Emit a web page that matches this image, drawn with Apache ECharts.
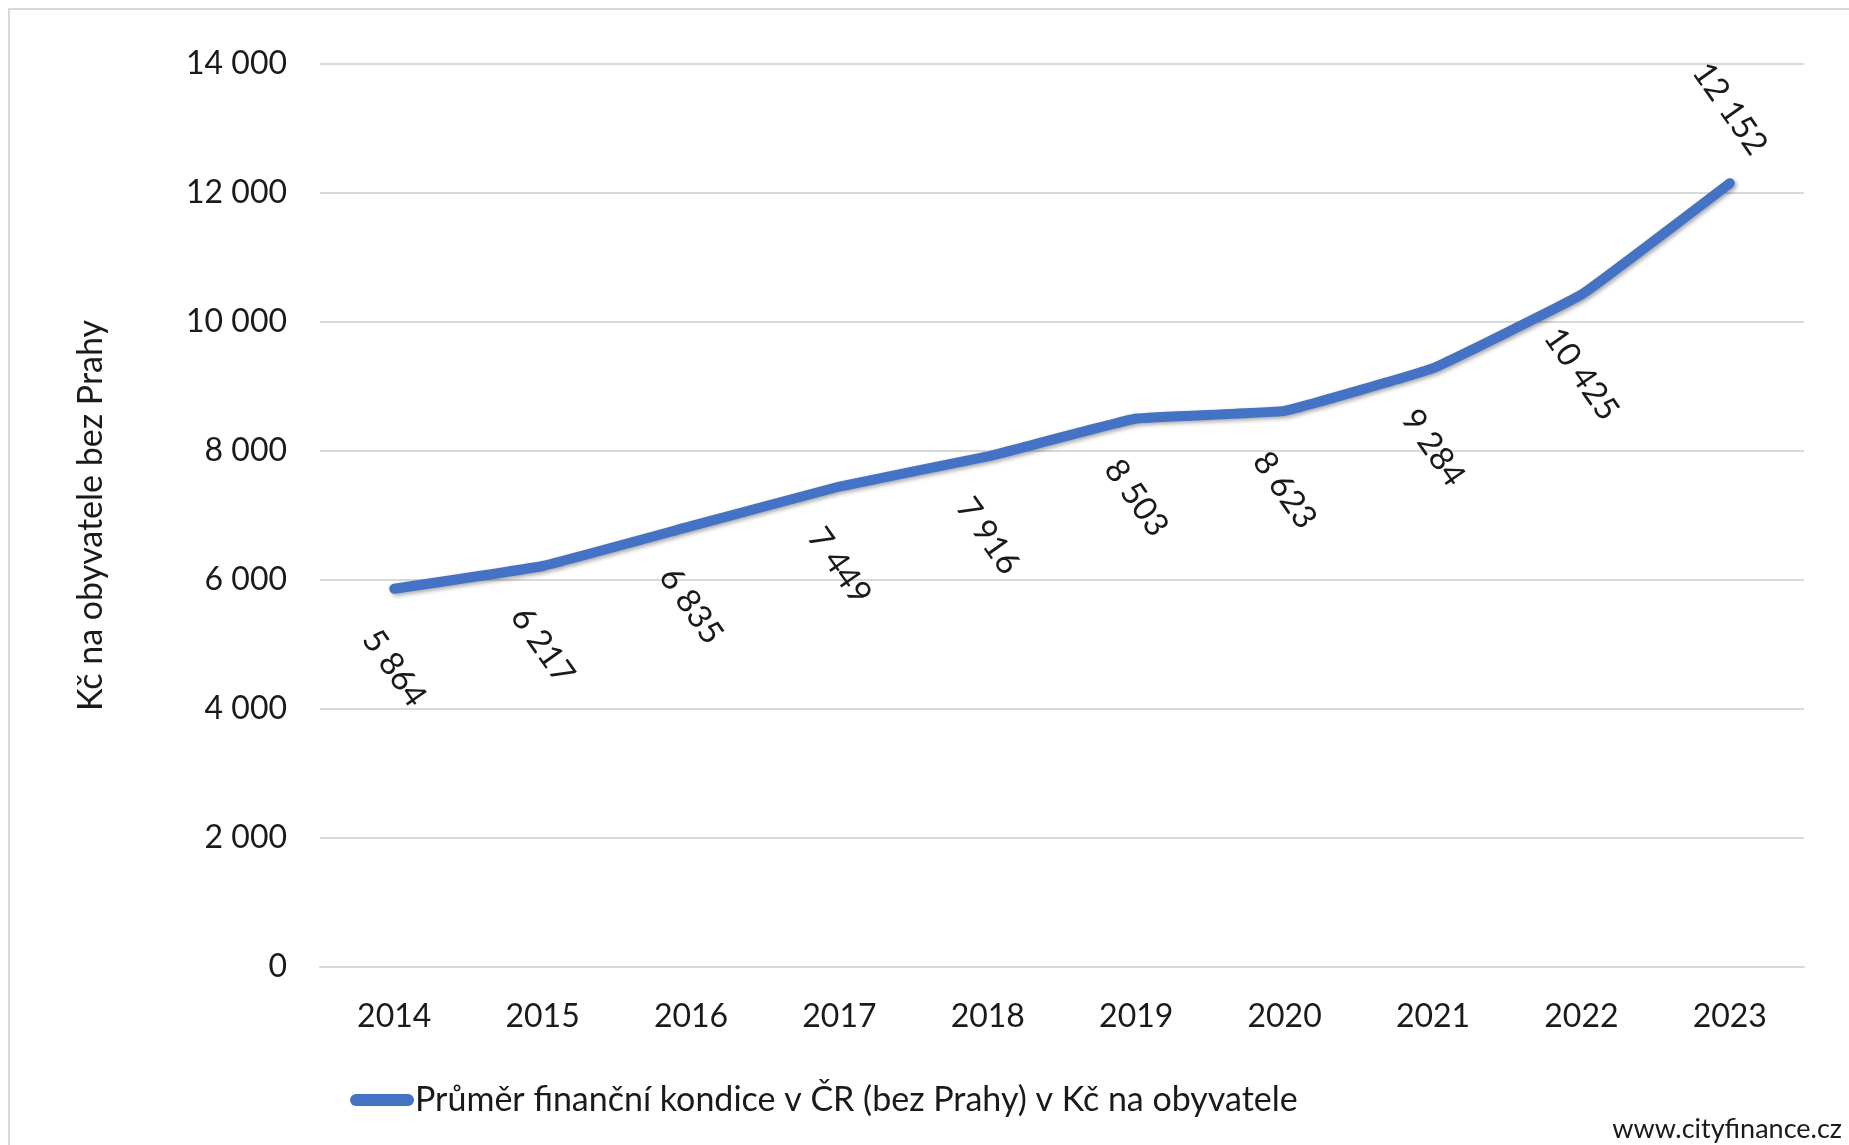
<!DOCTYPE html>
<html>
<head>
<meta charset="utf-8">
<script src="https://cdn.jsdelivr.net/npm/echarts@6/dist/echarts.min.js"></script>
<style>
  html, body { margin: 0; padding: 0; background: #fff; }
  #chart { width: 1849px; height: 1145px; }
</style>
</head>
<body>
<div id="chart"></div>
<script>
// data
const roky = ['2014', '2015', '2016', '2017', '2018', '2019', '2020', '2021', '2022', '2023']
const hodnoty = [5864, 6217, 6835, 7449, 7916, 8503, 8623, 9284, 10425, 12152]
const nazevRady = 'Průměr finanční kondice v ČR (bez Prahy) v Kč na obyvatele'
const nazevOsy = 'Kč na obyvatele bez Prahy'

const font = 'Lato, "Open Sans", sans-serif'
const mezera = v => String(v).replace(/\B(?=(\d{3})+(?!\d))/g, ' ')

const myChart = echarts.init(document.getElementById('chart'))

// posledni bod ma popisek nad carou, ostatni pod
const data = hodnoty.map((v, i) => {
    const nahore = i === hodnoty.length - 1
    return {
        value: v,
        label: { position: [0.5, nahore ? -74 : 80] }
    }
})

const option = {
    backgroundColor: '#ffffff',
    animation: false,
    grid: { left: 320, right: 45, top: 64, bottom: 178 },
    legend: {
        data: [nazevRady],
        left: 345,
        top: 1078,
        itemWidth: 64,
        itemHeight: 12,
        icon: 'path://M6,0 H58 A6,6 0 0 1 58,12 H6 A6,6 0 0 1 6,0 Z',
        itemStyle: { color: '#4472c4', opacity: 1 },
        textStyle: { color: '#1a1a1a', fontSize: 34, fontFamily: font, padding: [0, 0, 0, -4] }
    },
    xAxis: {
        type: 'category',
        data: roky,
        boundaryGap: true,
        axisLine: { lineStyle: { color: '#d9d9d9', width: 2 } },
        axisTick: { show: false },
        axisLabel: { color: '#1a1a1a', fontSize: 32, fontFamily: font, margin: 34 }
    },
    yAxis: {
        type: 'value',
        min: 0,
        max: 14000,
        interval: 2000,
        name: nazevOsy,
        nameLocation: 'middle',
        nameGap: 212,
        nameTextStyle: { color: '#1a1a1a', fontSize: 34, fontFamily: font },
        axisLine: { show: false },
        axisTick: { show: false },
        axisLabel: { color: '#1a1a1a', fontSize: 32, fontFamily: font, margin: 33, formatter: mezera },
        splitLine: { lineStyle: { color: '#d9d9d9', width: 2 } }
    },
    series: [
        {
            name: nazevRady,
            type: 'line',
            data: data,
            smooth: 0.08,
            showSymbol: true,
            symbol: 'circle',
            symbolSize: 1,
            itemStyle: { color: '#4472c4' },
            lineStyle: {
                color: '#4472c4',
                width: 10,
                cap: 'round',
                join: 'round',
                shadowColor: 'rgba(0,0,0,0.35)',
                shadowBlur: 4,
                shadowOffsetX: 2,
                shadowOffsetY: 2
            },
            label: {
                show: true,
                rotate: -55,
                align: 'center',
                verticalAlign: 'middle',
                color: '#1a1a1a',
                fontSize: 33,
                fontFamily: font,
                formatter: p => mezera(p.value)
            },
            emphasis: { disabled: true }
        }
    ],
    graphic: [
        {
            type: 'rect',
            shape: { x: 9, y: 9, width: 1860, height: 1160 },
            style: { fill: 'none', stroke: '#d9d9d9', lineWidth: 2 },
            silent: true
        },
        {
            type: 'text',
            right: 7,
            top: 1116,
            style: { text: 'www.cityfinance.cz', fill: '#1a1a1a', font: '27px ' + font }
        }
    ]
}

myChart.setOption(option)
window.addEventListener('resize', () => {
    myChart.resize()
})
</script>
</body>
</html>
